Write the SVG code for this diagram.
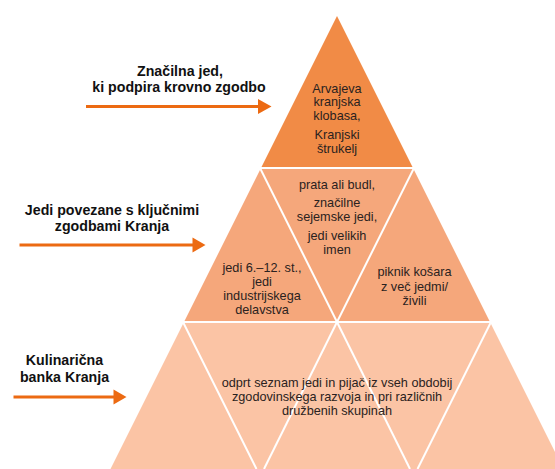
<svg xmlns="http://www.w3.org/2000/svg" width="555" height="469" viewBox="0 0 555 469">
<defs>
<style>
.lbl{font-family:"Liberation Sans",Arial,sans-serif;font-weight:bold;font-size:14.2px;fill:#111;text-anchor:middle}
.txt{font-family:"Liberation Sans",Arial,sans-serif;font-size:12.7px;fill:#2a2220;text-anchor:middle}
.sep{stroke:#fff;stroke-width:2;fill:none}
.arr{stroke:#EC6A12;stroke-width:3;fill:none}
.head{fill:#EC6A12}
</style>
</defs>
<rect width="555" height="469" fill="#fff"/>
<g id="tier-top">
<polygon points="337,16 261.5,167 412.5,167" fill="#F18B46"/>
<text class="txt" x="337" y="92.5">Arvajeva</text>
<text class="txt" x="337" y="106">kranjska</text>
<text class="txt" x="337" y="119.5">klobasa,</text>
<text class="txt" x="337" y="139">Kranjski</text>
<text class="txt" x="337" y="152.5">štrukelj</text>
</g>
<g id="tier-middle">
<polygon points="260.5,169 413.5,169 489.5,321 184.5,321" fill="#F5A77B"/>
<line class="sep" x1="260.5" y1="169" x2="337" y2="322"/>
<line class="sep" x1="413.5" y1="169" x2="337" y2="322"/>
</g>
<g id="tier-bottom">
<polygon points="183.5,323 490.5,323 563.5,469 110.5,469" fill="#FBC4A5"/>
<line class="sep" x1="183.5" y1="323" x2="256.5" y2="469"/>
<line class="sep" x1="337" y1="322" x2="264" y2="469"/>
<line class="sep" x1="337" y1="322" x2="410" y2="469"/>
<line class="sep" x1="490.5" y1="323" x2="417.5" y2="469"/>
</g>
<g id="cell-middle-left">
<text class="txt" x="262" y="271.5">jedi 6.–12. st.,</text>
<text class="txt" x="262" y="286">jedi</text>
<text class="txt" x="262" y="299.5">industrijskega</text>
<text class="txt" x="262" y="314">delavstva</text>
</g>
<g id="cell-middle-center">
<text class="txt" x="337" y="188.5">prata ali budl,</text>
<text class="txt" x="337" y="207">značilne</text>
<text class="txt" x="337" y="221">sejemske jedi,</text>
<text class="txt" x="337" y="239.5">jedi velikih</text>
<text class="txt" x="337" y="253.5">imen</text>
</g>
<g id="cell-middle-right">
<text class="txt" x="414.5" y="276">piknik košara</text>
<text class="txt" x="414.5" y="290.5">z več jedmi/</text>
<text class="txt" x="414.5" y="305">živili</text>
</g>
<g id="cell-bottom">
<text class="txt" x="337" y="386.5">odprt seznam jedi in pijač iz vseh obdobij</text>
<text class="txt" x="337" y="400.5">zgodovinskega razvoja in pri različnih</text>
<text class="txt" x="337" y="415">družbenih skupinah</text>
</g>
<g id="label-top">
<text class="lbl" x="180" y="76">Značilna jed,</text>
<text class="lbl" x="179" y="92">ki podpira krovno zgodbo</text>
</g>
<g id="label-middle">
<text class="lbl" x="112" y="214.5">Jedi povezane s ključnimi</text>
<text class="lbl" x="112" y="230.5">zgodbami Kranja</text>
</g>
<g id="label-bottom">
<text class="lbl" x="64.5" y="365">Kulinarična</text>
<text class="lbl" x="64.5" y="381.5">banka Kranja</text>
</g>
<g id="connectors">
<line class="arr" x1="86" y1="106.5" x2="260" y2="106.5"/>
<polygon class="head" points="258,99 271.5,106.5 258,114"/>
<line class="arr" x1="19.5" y1="245" x2="194" y2="245"/>
<polygon class="head" points="192.5,237.5 205.5,245 192.5,252.5"/>
<line class="arr" x1="13.5" y1="397" x2="115" y2="397"/>
<polygon class="head" points="113.5,389.5 126.5,397 113.5,404.5"/>
</g>
</svg>
